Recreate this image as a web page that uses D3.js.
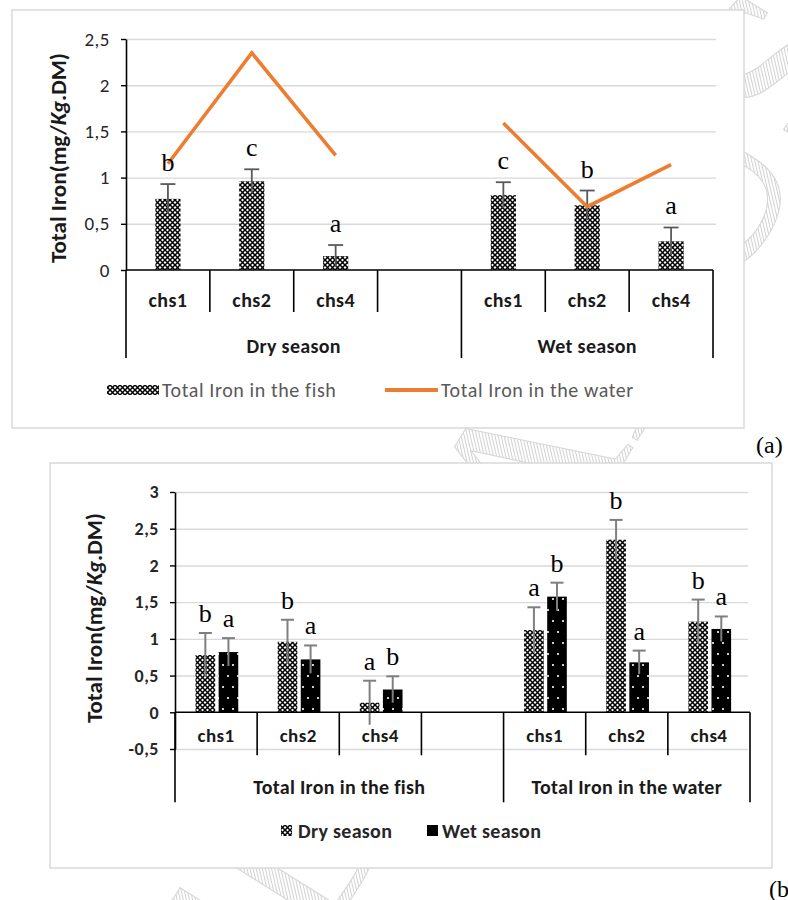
<!DOCTYPE html>
<html>
<head>
<meta charset="utf-8">
<script src="https://cdn.jsdelivr.net/npm/d3@7"></script>
<style>
  body { margin: 0; background: #fff; }
  svg { display: block; }
</style>
</head>
<body>
<div id="chart"></div>
<script>
// Categories
const sites = ["chs1", "chs2", "chs4"];
const seasons = ["Dry season", "Wet season"];
const media = ["Total Iron in the fish", "Total Iron in the water"];

// Panel (a): fish bars + water line, grouped by season
const fishDryA = [0.77, 0.96, 0.15];
const fishWetA = [0.81, 0.70, 0.31];
const fishDryErrA = [0.16, 0.13, 0.12];
const fishWetErrA = [0.14, 0.16, 0.15];
const waterDryA = [1.15, 2.35, 1.24];
const waterWetA = [1.59, 0.685, 1.14];
const lettersDryA = ["b", "c", "a"];
const lettersWetA = ["c", "b", "a"];
const ticksA = [0, 0.5, 1, 1.5, 2, 2.5];

// Panel (b): dry vs wet bars, grouped by medium
const fishDryB = [0.78, 0.96, 0.13];
const fishWetB = [0.82, 0.72, 0.31];
const waterDryB = [1.12, 2.35, 1.235];
const waterWetB = [1.575, 0.68, 1.135];
const fishDryErrB = [0.30, 0.30, 0.30];
const fishWetErrB = [0.19, 0.19, 0.18];
const waterDryErrB = [0.31, 0.27, 0.30];
const waterWetErrB = [0.19, 0.16, 0.17];
const lettersFishDryB = ["b", "b", "a"];
const lettersFishWetB = ["a", "a", "b"];
const lettersWaterDryB = ["a", "b", "b"];
const lettersWaterWetB = ["b", "a", "a"];
const ticksB = [-0.5, 0, 0.5, 1, 1.5, 2, 2.5, 3];

const width = 788, height = 900;
const sansFont = "Carlito, Calibri, Lato, sans-serif";
const serifFont = "'Liberation Serif', 'Times New Roman', serif";
const comma = d => String(d).replace(".", ",");

const svg = d3.select("#chart").append("svg")
    .attr("width", width)
    .attr("height", height)
    .attr("viewBox", [0, 0, width, height])
    .style("background", "#fff");

// Patterns
const defs = svg.append("defs");
const lattice = defs.append("pattern")
    .attr("id", "lattice").attr("patternUnits", "userSpaceOnUse")
    .attr("width", 5).attr("height", 5);
lattice.append("rect").attr("width", 5).attr("height", 5).attr("fill", "#fff");
lattice.append("path").attr("d", "M0,0L5,5M5,0L0,5")
    .attr("stroke", "#000").attr("stroke-width", 1.5);

const dots = defs.append("pattern")
    .attr("id", "dots").attr("patternUnits", "userSpaceOnUse")
    .attr("width", 10).attr("height", 22);
dots.append("rect").attr("width", 10).attr("height", 22).attr("fill", "#000");
dots.append("circle").attr("cx", 3).attr("cy", 5).attr("r", 1.1).attr("fill", "#fff");
dots.append("circle").attr("cx", 8).attr("cy", 16).attr("r", 1.1).attr("fill", "#fff");

const hatch = defs.append("pattern")
    .attr("id", "hatch").attr("patternUnits", "userSpaceOnUse")
    .attr("width", 3).attr("height", 3).attr("patternTransform", "rotate(45)");
hatch.append("rect").attr("width", 3).attr("height", 3).attr("fill", "#fff");
hatch.append("line").attr("x1", 0).attr("y1", 0).attr("x2", 0).attr("y2", 3)
    .attr("stroke", "#bdbdbd").attr("stroke-width", 1.4);

// Faint watermark behind the frames
svg.append("text")
    .attr("transform", "translate(500,660) rotate(-58)")
    .attr("text-anchor", "middle")
    .attr("font-family", serifFont)
    .attr("font-size", 230)
    .attr("fill", "url(#hatch)")
    .attr("stroke", "#d6d6d6")
    .attr("stroke-width", 1)
    .text("ACCEPTED MANUSCRIPT");

// Helpers
function yTitle(g, x, y) {
  const t = g.append("text")
      .attr("transform", `translate(${x},${y}) rotate(-90)`)
      .attr("text-anchor", "middle")
      .attr("font-family", sansFont)
      .attr("font-weight", "bold")
      .attr("font-size", 23)
      .attr("fill", "#1a1a1a");
  t.append("tspan").text("Total Iron(mg/");
  t.append("tspan").attr("font-style", "italic").text("Kg");
  t.append("tspan").text(".DM)");
}

function categoryAxis(g, x, y0, groups, innerLen, outerLen, labelY, groupY, labelSize, groupSize) {
  const slots = x.domain();
  const [x0, x1] = x.range();
  g.append("line")
      .attr("x1", x0).attr("x2", x1).attr("y1", y0).attr("y2", y0)
      .attr("stroke", "#000").attr("stroke-width", 1.6);
  const starts = groups.map(gr => x(gr.slots[0]));
  const bounds = [...starts, x1];
  slots.forEach(s => {
    const xs = x(s);
    if (!starts.includes(xs)) {
      g.append("line").attr("x1", xs).attr("x2", xs)
          .attr("y1", y0).attr("y2", y0 + innerLen)
          .attr("stroke", "#000").attr("stroke-width", 1.6);
    }
  });
  bounds.forEach(xs => {
    g.append("line").attr("x1", xs).attr("x2", xs)
        .attr("y1", y0).attr("y2", y0 + outerLen)
        .attr("stroke", "#000").attr("stroke-width", 1.6);
  });
  groups.forEach(gr => {
    gr.slots.forEach((s, i) => {
      if (!gr.labels[i]) return;
      g.append("text")
          .attr("x", x(s) + x.bandwidth() / 2)
          .attr("y", labelY)
          .attr("dy", "0.35em")
          .attr("text-anchor", "middle")
          .attr("font-family", sansFont)
          .attr("font-weight", "bold")
          .attr("font-size", labelSize)
          .attr("letter-spacing", 0.4)
          .attr("fill", "#1a1a1a")
          .text(gr.labels[i]);
    });
    const a = x(gr.slots[0]);
    const b = gr.end;
    g.append("text")
        .attr("x", (a + b) / 2)
        .attr("y", groupY)
        .attr("dy", "0.35em")
        .attr("text-anchor", "middle")
        .attr("font-family", sansFont)
        .attr("font-weight", "bold")
        .attr("font-size", groupSize)
        .attr("letter-spacing", 0.3)
        .attr("fill", "#1a1a1a")
        .text(gr.name);
  });
}

function valueAxis(g, y, ticks, xAxis, gridEnd, bold, fontSize) {
  g.append("g")
      .attr("transform", `translate(${xAxis},0)`)
      .call(d3.axisLeft(y).tickValues(ticks.filter(t => t !== 0)).tickSize(-(gridEnd - xAxis)).tickFormat(""))
      .call(a => a.select(".domain").remove())
      .call(a => a.selectAll("line").attr("stroke", "#d9d9d9").attr("stroke-width", 1.4));
  g.append("g")
      .attr("transform", `translate(${xAxis},0)`)
      .call(d3.axisLeft(y).tickValues(ticks).tickSize(5).tickSizeOuter(0).tickPadding(11).tickFormat(comma))
      .call(a => a.select(".domain").attr("stroke", "#000").attr("stroke-width", 1.6))
      .call(a => a.selectAll("line").attr("stroke", "#000").attr("stroke-width", 1.4))
      .call(a => a.selectAll("text")
          .attr("font-family", sansFont)
          .attr("font-size", fontSize)
          .attr("font-weight", bold ? "bold" : "normal")
          .attr("letter-spacing", 0.5)
          .attr("fill", "#262626"));
}

function errorBars(g, rows, y, cap, color, sw) {
  const e = g.append("g").attr("stroke", color).attr("stroke-width", sw);
  rows.forEach(r => {
    e.append("line").attr("x1", r.cx).attr("x2", r.cx)
        .attr("y1", y(r.v - r.e)).attr("y2", y(r.v + r.e));
    e.append("line").attr("x1", r.cx - cap / 2).attr("x2", r.cx + cap / 2)
        .attr("y1", y(r.v + r.e)).attr("y2", y(r.v + r.e));
  });
}

function letters(g, rows, y, offset) {
  g.append("g")
      .attr("font-family", serifFont)
      .attr("font-size", 26)
      .attr("text-anchor", "middle")
      .attr("fill", "#000")
    .selectAll("text")
    .data(rows)
    .join("text")
      .attr("x", r => r.cx)
      .attr("y", r => y(r.v + r.e) - offset)
      .text(r => r.l);
}

// ---------------- Panel (a) ----------------
{
  const g = svg.append("g");
  g.append("rect").attr("x", 12).attr("y", 10).attr("width", 732).attr("height", 418)
      .attr("fill", "#fff").attr("stroke", "#d9d9d9").attr("stroke-width", 1.5);

  const dryKeys = sites.map(s => seasons[0] + "|" + s);
  const wetKeys = sites.map(s => seasons[1] + "|" + s);
  const slots = [...dryKeys, "gap", ...wetKeys];

  const x = d3.scaleBand().domain(slots).range([126, 713]);
  const y = d3.scaleLinear().domain([0, 2.5]).range([270, 39]);
  const cx = k => x(k) + x.bandwidth() / 2;

  valueAxis(g, y, ticksA, 126, 716, false, 19);
  yTitle(g, 66, 158);

  const rows = [
    ...dryKeys.map((k, i) => ({ k, v: fishDryA[i], e: fishDryErrA[i], l: lettersDryA[i] })),
    ...wetKeys.map((k, i) => ({ k, v: fishWetA[i], e: fishWetErrA[i], l: lettersWetA[i] }))
  ];
  rows.forEach(r => r.cx = cx(r.k));
  const bw = x.bandwidth() * 0.3;

  g.append("g").selectAll("rect").data(rows).join("rect")
      .attr("x", r => r.cx - bw / 2)
      .attr("y", r => y(r.v))
      .attr("width", bw)
      .attr("height", r => y(0) - y(r.v))
      .attr("fill", "url(#lattice)");

  errorBars(g, rows, y, 15, "#595959", 1.8);

  const line = d3.line().x(d => cx(d.k)).y(d => y(d.v));
  [dryKeys.map((k, i) => ({ k, v: waterDryA[i] })),
   wetKeys.map((k, i) => ({ k, v: waterWetA[i] }))].forEach(pts => {
    g.append("path").attr("d", line(pts))
        .attr("fill", "none").attr("stroke", "#ED7D31")
        .attr("stroke-width", 3.6).attr("stroke-linejoin", "miter");
  });

  letters(g, rows, y, 13);

  categoryAxis(g, x, y(0), [
    { name: seasons[0], slots: [...dryKeys, "gap"], labels: [...sites, ""], end: x(wetKeys[0]) },
    { name: seasons[1], slots: wetKeys, labels: sites, end: x.range()[1] }
  ], 42, 88, 300, 346, 20, 20);

  // legend
  const lg = g.append("g").attr("font-family", sansFont).attr("font-size", 20)
      .attr("letter-spacing", 0.6).attr("fill", "#595959");
  lg.append("rect").attr("x", 107).attr("y", 385).attr("width", 52).attr("height", 10).attr("fill", "url(#lattice)");
  lg.append("text").attr("x", 162).attr("y", 390).attr("dy", "0.35em").text(media[0]);
  lg.append("line").attr("x1", 385).attr("x2", 438).attr("y1", 390).attr("y2", 390)
      .attr("stroke", "#ED7D31").attr("stroke-width", 4);
  lg.append("text").attr("x", 441).attr("y", 390).attr("dy", "0.35em").text(media[1]);

  svg.append("text").attr("x", 756).attr("y", 453)
      .attr("font-family", serifFont).attr("font-size", 24).text("(a)");
}

// ---------------- Panel (b) ----------------
{
  const g = svg.append("g");
  g.append("rect").attr("x", 50).attr("y", 463).attr("width", 722).attr("height", 405)
      .attr("fill", "#fff").attr("stroke", "#d9d9d9").attr("stroke-width", 1.5);

  const fishKeys = sites.map(s => "fish|" + s);
  const waterKeys = sites.map(s => "water|" + s);
  const slots = [...fishKeys, "gap", ...waterKeys];

  const x = d3.scaleBand().domain(slots).range([175, 750]);
  const bwAll = x.bandwidth();
  const xs = d3.scaleBand().domain(seasons).range([0.25 * bwAll, 0.77 * bwAll]).paddingInner(0.15);
  const y = d3.scaleLinear().domain([-0.5, 3]).range([749, 492]);

  valueAxis(g, y, ticksB, 175, 748, true, 18);
  yTitle(g, 102, 618);

  const mk = (keys, vals, errs, lets, season) => keys.map((k, i) => ({
    k, season, v: vals[i], e: errs[i], l: lets[i],
    cx: x(k) + xs(season) + xs.bandwidth() / 2
  }));
  const rows = [
    ...mk(fishKeys, fishDryB, fishDryErrB, lettersFishDryB, seasons[0]),
    ...mk(fishKeys, fishWetB, fishWetErrB, lettersFishWetB, seasons[1]),
    ...mk(waterKeys, waterDryB, waterDryErrB, lettersWaterDryB, seasons[0]),
    ...mk(waterKeys, waterWetB, waterWetErrB, lettersWaterWetB, seasons[1])
  ];

  g.append("g").selectAll("rect").data(rows).join("rect")
      .attr("x", r => x(r.k) + xs(r.season))
      .attr("y", r => y(r.v))
      .attr("width", xs.bandwidth())
      .attr("height", r => y(0) - y(r.v))
      .attr("fill", r => r.season === seasons[0] ? "url(#lattice)" : "url(#dots)");

  errorBars(g, rows, y, 13, "#7f7f7f", 2);
  letters(g, rows, y, 11);

  categoryAxis(g, x, y(0), [
    { name: media[0], slots: [...fishKeys, "gap"], labels: [...sites, ""], end: x(waterKeys[0]) },
    { name: media[1], slots: waterKeys, labels: sites, end: x.range()[1] }
  ], 43, 90, 735, 787, 19, 20);

  const lg = g.append("g").attr("font-family", sansFont).attr("font-size", 20)
      .attr("font-weight", "bold").attr("letter-spacing", 0.3).attr("fill", "#262626");
  lg.append("rect").attr("x", 281).attr("y", 825).attr("width", 11).attr("height", 11).attr("fill", "url(#lattice)");
  lg.append("text").attr("x", 298).attr("y", 831).attr("dy", "0.35em").text(seasons[0]);
  lg.append("rect").attr("x", 427).attr("y", 825).attr("width", 11).attr("height", 11).attr("fill", "#000");
  lg.append("text").attr("x", 442).attr("y", 831).attr("dy", "0.35em").text(seasons[1]);

  svg.append("text").attr("x", 769).attr("y", 897)
      .attr("font-family", serifFont).attr("font-size", 24).text("(b)");
}
</script>
</body>
</html>
